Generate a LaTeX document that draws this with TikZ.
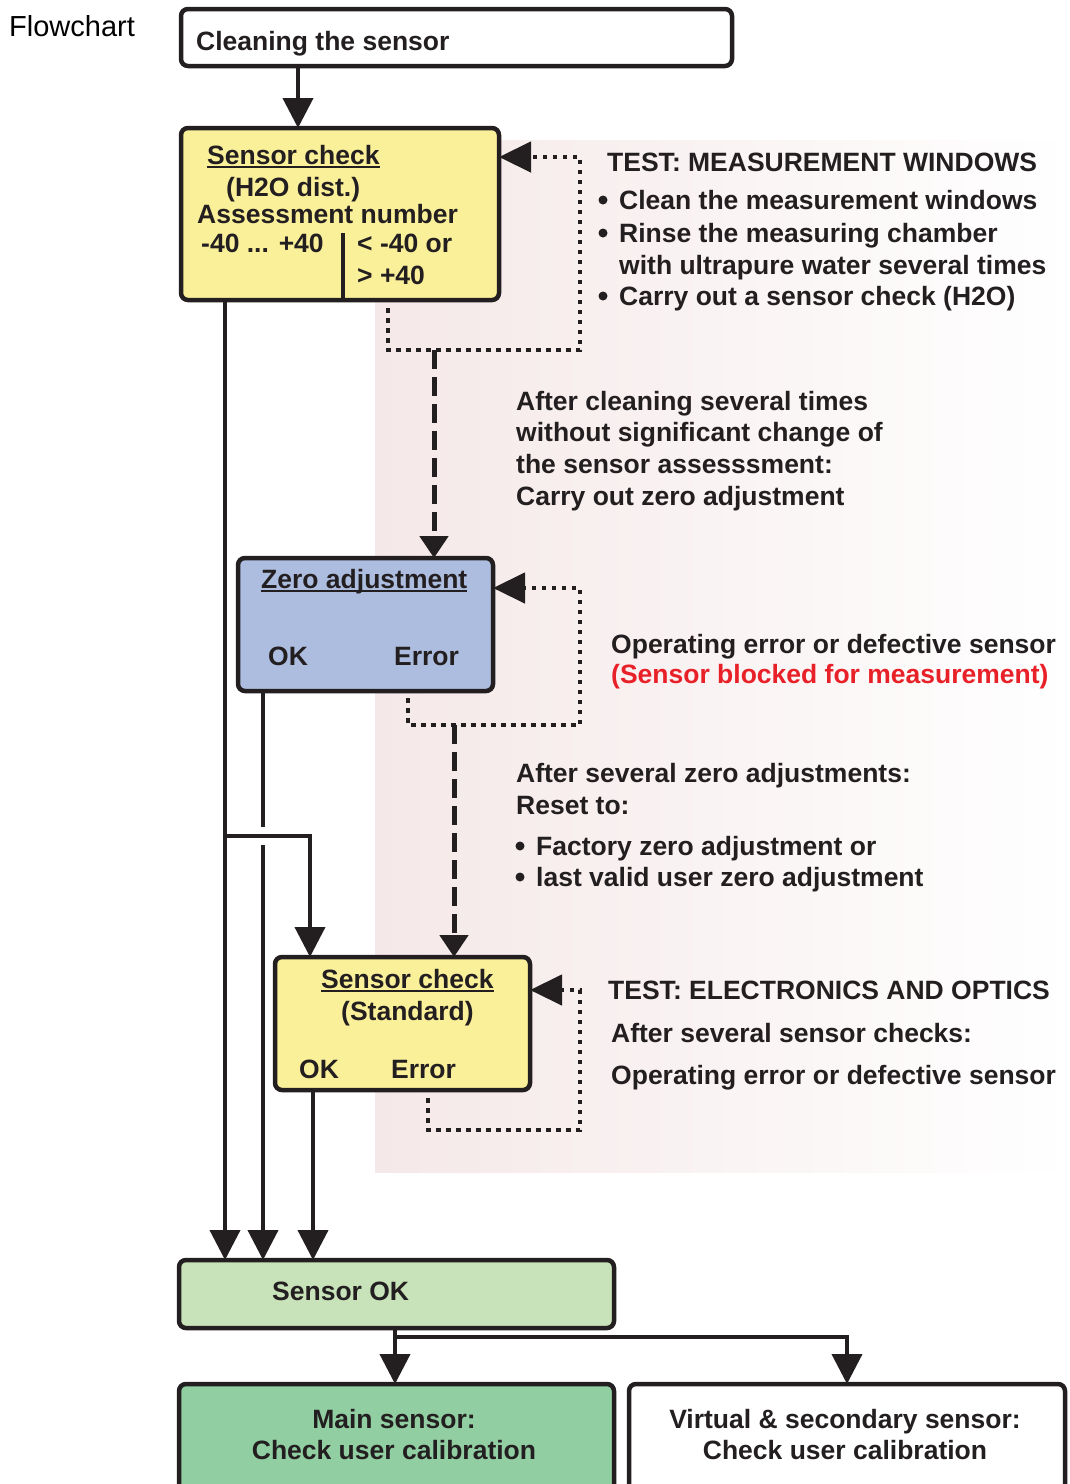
\documentclass[tikz,border=0pt]{standalone}
\usepackage{fontspec}
\setmainfont{Liberation Sans}
\usetikzlibrary{arrows.meta,positioning}
\definecolor{ink}{RGB}{35,31,32}
\definecolor{checkYellow}{RGB}{251,240,154}
\definecolor{zeroBlue}{RGB}{173,189,223}
\definecolor{okGreen}{RGB}{200,226,185}
\definecolor{mainGreen}{RGB}{145,206,161}
\definecolor{testPink}{RGB}{245,232,232}
\definecolor{blockRed}{RGB}{232,32,40}

\newcommand{\undr}[1]{\setbox0\hbox{#1}\rlap{\rule[-4pt]{\wd0}{2pt}}\box0}

\tikzset{
  box/.style={draw=ink, line width=4.5pt, rounded corners=7pt, anchor=north west, inner sep=0pt, outer sep=0pt},
  txt/.style={anchor=base west, inner sep=0pt, text=ink, font=\bfseries\fontsize{26.5}{31}\selectfont},
  ctxt/.style={txt, anchor=base},
  flow/.style={draw=ink, line width=4pt, -{Triangle[width=30pt,length=30pt]}},
  dotline/.style={draw=ink, line width=4.5pt, dash pattern=on 4.5pt off 5.5pt, -{Triangle[width=30pt,length=32pt]}},
  dashline/.style={draw=ink, line width=5pt, dash pattern=on 19pt off 8pt, -{Triangle[width=28pt,length=22pt]}}
}

\begin{document}
\begin{tikzpicture}[x=1pt,y=-1pt]
  \useasboundingbox (0,0) rectangle (1069,1484);
  \clip (0,0) rectangle (1069,1484);

  % background of the test notes
  \shade[left color=testPink, right color=white] (375,140) rectangle (1069,1172);

  % the boxes
  \node[box, fill=white,       minimum width=551, minimum height=57]  (clean) at (181,9) {};
  \node[box, fill=checkYellow, minimum width=318, minimum height=172] (chkA)  at (181,128) {};
  \node[box, fill=zeroBlue,    minimum width=255, minimum height=133] (zero)  at (238,558) {};
  \node[box, fill=checkYellow, minimum width=255, minimum height=133] (chkB)  at (275,957) {};
  \node[box, fill=okGreen,     minimum width=435, minimum height=68]  (ok)    at (179,1260) {};
  \node[box, fill=mainGreen,   minimum width=435, minimum height=160] (mainB) at (179,1384) {};
  \node[box, fill=white,       minimum width=436, minimum height=160] (virt)  at (629,1384) {};

  % texts in the boxes
  \node[anchor=base west, inner sep=0pt, font=\fontsize{29}{34}\selectfont] (title) at (9,36) {Flowchart};
  \node[txt] (cleanT) at (196,50) {Cleaning the sensor};

  \node[txt] (chkAt)    at (207,164) {\undr{Sensor check}};
  \node[txt] (chkAh)    at (226,196) {(H2O dist.)};
  \node[txt] (chkAa)    at (197,223) {Assessment number};
  \node[txt] (chkAin)   at (201,252) {-40 ... +40};
  \node[txt] (chkAout)  at (357,252) {< -40 or};
  \node[txt] (chkAout2) at (357,284) {> +40};
  \draw[ink, line width=4pt] (343,233) -- (343,300);

  \node[txt] (zeroT)   at (261,588) {\undr{Zero adjustment}};
  \node[txt] (zeroOk)  at (268,665) {OK};
  \node[txt] (zeroErr) at (394,665) {Error};

  \node[txt] (chkBt)   at (321,988)  {\undr{Sensor check}};
  \node[txt] (chkBs)   at (341,1020) {(Standard)};
  \node[txt] (chkBok)  at (299,1078) {OK};
  \node[txt] (chkBerr) at (391,1078) {Error};

  \node[txt]  (okT)    at (272,1300) {Sensor OK};
  \node[ctxt] (mainT1) at (394,1428) {Main sensor:};
  \node[ctxt] (mainT2) at (394,1459) {Check user calibration};
  \node[ctxt] (virtT1) at (845,1428) {Virtual \& secondary sensor:};
  \node[ctxt] (virtT2) at (845,1459) {Check user calibration};

  % notes on the tests
  \node[txt] (testA) at (607,171) {TEST: MEASUREMENT WINDOWS};
  \foreach \t/\y [count=\i] in {Clean the measurement windows/209, Rinse the measuring chamber/242,
      with ultrapure water several times/274, Carry out a sensor check (H2O)/305}
    \node[txt] (testA\i) at (619,\y) {\t};
  \foreach \y in {200,233,296} \fill[ink] (603,\y) circle (4.5pt);

  \foreach \t/\y [count=\i] in {After cleaning several times/410, without significant change of/441,
      the sensor assesssment:/473, Carry out zero adjustment/505}
    \node[txt] (cleanNote\i) at (516,\y) {\t};

  \node[txt] (errZ) at (611,653) {Operating error or defective sensor};
  \node[txt, text=blockRed] (errZr) at (611,683) {(Sensor blocked for measurement)};

  \node[txt] (resetA) at (516,782) {After several zero adjustments:};
  \node[txt] (resetB) at (516,814) {Reset to:};
  \node[txt] (resetC) at (536,855) {Factory zero adjustment or};
  \node[txt] (resetD) at (536,886) {last valid user zero adjustment};
  \foreach \y in {846,877} \fill[ink] (520,\y) circle (4.5pt);

  \node[txt] (testB)  at (608,999)  {TEST: ELECTRONICS AND OPTICS};
  \node[txt] (testB1) at (611,1042) {After several sensor checks:};
  \node[txt] (testB2) at (611,1084) {Operating error or defective sensor};

  % the columns of the connectors
  \coordinate (colTop) at (298,0);
  \coordinate (colA) at (225,0);
  \coordinate (colB) at (263,0);
  \coordinate (colC) at (313,0);
  \coordinate (colD) at (310,0);
  \coordinate (colE) at (395,0);
  \coordinate (colF) at (434,0);
  \coordinate (colG) at (454,0);
  \coordinate (branch) at (0,836);
  \coordinate (split) at (0,1337);

  % main flow
  \draw[flow] (clean.south -| colTop) -- (chkA.north -| colTop);
  \draw[flow] (chkA.south -| colA) -- (ok.north -| colA);
  \draw[flow] (zero.south -| colB) -- (ok.north -| colB);
  \draw[white, line width=6pt] (263,827) -- (263,845);
  \draw[flow] (colA |- branch) -| (chkB.north -| colD);
  \draw[flow] (chkB.south -| colC) -- (ok.north -| colC);
  \draw[flow] (ok.south -| colE) -- (mainB.north -| colE);
  \draw[flow] (colE |- split) -| (virt.north);

  % the loops back to the checks
  \coordinate (loopA) at (388,308);
  \coordinate (turnA) at (580,350);
  \coordinate (backA) at (0,157);
  \draw[dotline] (loopA) |- (turnA) |- (chkA.east |- backA);
  \draw[dashline] (colF |- turnA) -- (zero.north -| colF);

  \coordinate (loopB) at (408,698);
  \coordinate (turnB) at (580,725);
  \coordinate (backB) at (0,588);
  \draw[dotline] (loopB) |- (turnB) |- (zero.east |- backB);
  \draw[dashline] (colG |- turnB) -- (chkB.north -| colG);

  \coordinate (loopC) at (428,1098);
  \coordinate (turnC) at (580,1130);
  \coordinate (backC) at (0,990);
  \draw[dotline] (loopC) |- (turnC) |- (chkB.east |- backC);

\end{tikzpicture}
\end{document}
